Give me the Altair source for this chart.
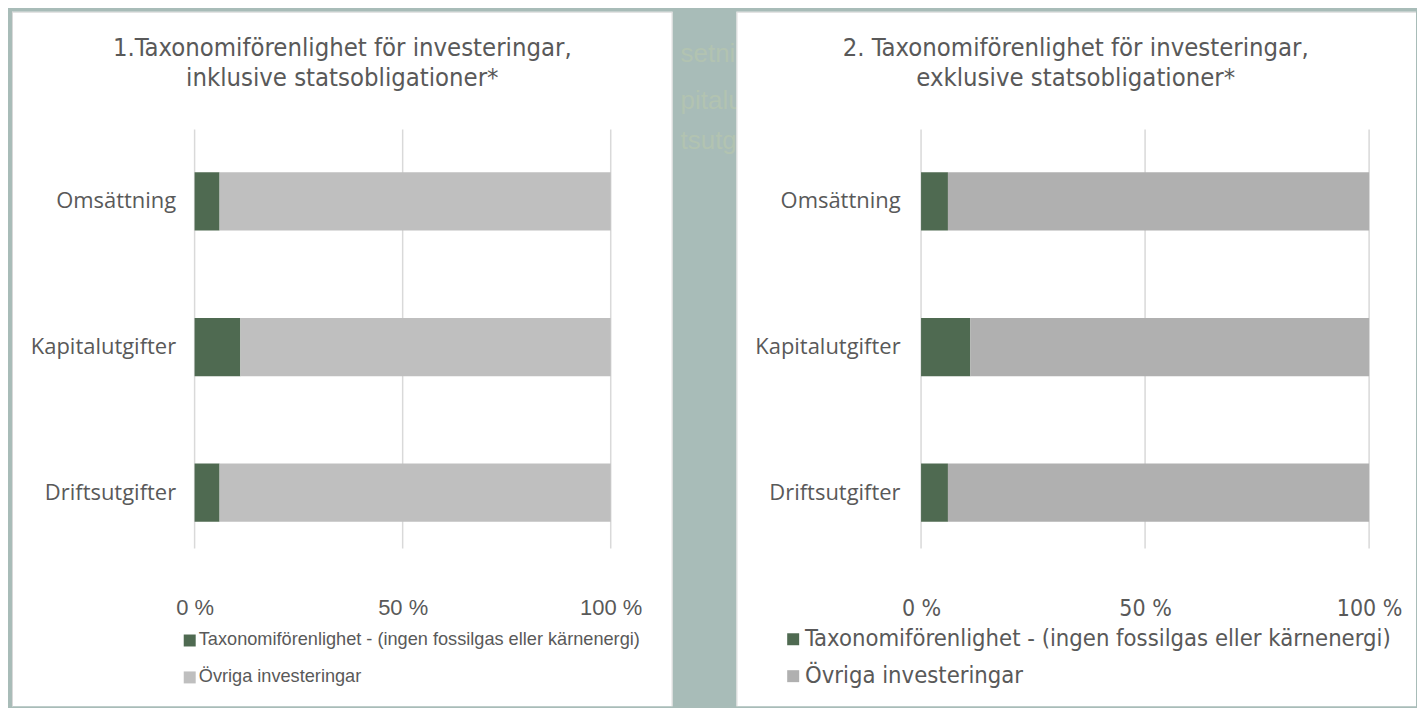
import altair as alt
import pandas as pd

categories = ["Omsättning", "Kapitalutgifter", "Driftsutgifter"]
series_names = ["Taxonomiförenlighet - (ingen fossilgas eller kärnenergi)", "Övriga investeringar"]
aligned_incl = [6, 11, 6]
other_incl = [94, 89, 94]
aligned_excl = [6, 11, 6]
other_excl = [94, 89, 94]
x_ticks = [0, 50, 100]
title_incl = ["1.Taxonomiförenlighet för investeringar,", "inklusive statsobligationer*"]
title_excl = ["2. Taxonomiförenlighet för investeringar,", "exklusive statsobligationer*"]
ghost_text = ["setni", "pitalu", "tsutg"]

GREEN = "#4f6a51"
TEXT = "#595959"
BORDER = "#d9d9d9"
NARROW = "DejaVu Sans Condensed, Liberation Sans"
REG = "Liberation Sans"
CAT = "Open Sans"


def long_df(aligned, other):
    rows = []
    for c, a, o in zip(categories, aligned, other):
        rows.append({"cat": c, "series": series_names[0], "value": a, "order": 0})
        rows.append({"cat": c, "series": series_names[1], "value": o, "order": 1})
    return pd.DataFrame(rows)


def edge(one, x1, x2, y1, y2):
    return alt.Chart(one).mark_rule(color=BORDER, strokeWidth=1).encode(
        x=alt.value(x1), x2=alt.value(x2), y=alt.value(y1), y2=alt.value(y2))


def panel(aligned, other, grey, W, H, rect, title_lines, title_x, title_font,
          title_size, tick_font, tick_size, leg_font, leg_size, leg_x, leg_y,
          leg_row, cat_pad, right_edge=True, ghosts=None):
    one = pd.DataFrame({"k": [0]})
    x_axis = alt.Axis(values=x_ticks, labelExpr="datum.value + ' %'", title=None,
                      domain=False, ticks=False, grid=False, labelFont=tick_font,
                      labelFontSize=tick_size, labelColor=TEXT, labelPadding=32,
                      labelFlush=False, zindex=1)
    layers = []
    if ghosts is not None:
        gdf = pd.DataFrame({"t": ghosts[0], "y": ghosts[1]})
        layers.append(
            alt.Chart(gdf).mark_text(align="left", baseline="middle", font=REG,
                                     fontSize=26, color="#b2c3b1")
            .encode(x=alt.value(ghosts[2]), y=alt.Y("y:Q", scale=None), text="t:N")
        )
    layers.append(
        alt.Chart(one).mark_rect(fill="white", strokeWidth=0)
        .encode(x=alt.value(rect[0]), x2=alt.value(rect[1]),
                y=alt.value(rect[2]), y2=alt.value(rect[3]))
    )
    layers.append(edge(one, rect[0] + 0.5, rect[0] + 0.5, rect[2], rect[3]))
    layers.append(edge(one, rect[0], rect[1], rect[2] + 0.5, rect[2] + 0.5))
    if right_edge:
        layers.append(edge(one, rect[1] - 0.5, rect[1] - 0.5, rect[2], rect[3]))
    for i, line in enumerate(title_lines):
        layers.append(
            alt.Chart(one).mark_text(align="center", baseline="middle", font=title_font,
                                     fontSize=title_size, color=TEXT)
            .encode(x=alt.value(title_x), y=alt.value(-81 + 30 * i), text=alt.value(line))
        )
    grid = alt.Chart(pd.DataFrame({"v": x_ticks})).mark_rule(color=BORDER, strokeWidth=1.5).encode(
        x=alt.X("v:Q", scale=alt.Scale(domain=[0, 100]), axis=x_axis),
        y=alt.value(1), y2=alt.value(421),
    )
    layers.append(grid)
    bars = alt.Chart(long_df(aligned, other)).mark_bar().encode(
        y=alt.Y("cat:N", sort=categories,
                scale=alt.Scale(paddingInner=0.6, paddingOuter=0.3),
                axis=alt.Axis(title=None, domain=False, ticks=False, labelFont=CAT,
                              labelFontSize=22, labelColor=TEXT, labelPadding=cat_pad,
                              zindex=1)),
        x=alt.X("value:Q", stack="zero", scale=alt.Scale(domain=[0, 100]), axis=x_axis),
        color=alt.Color("series:N", sort=series_names,
                        scale=alt.Scale(domain=series_names, range=[GREEN, grey]),
                        legend=alt.Legend(title=None, orient="none", legendX=leg_x, legendY=leg_y,
                                          direction="vertical", symbolType="square",
                                          symbolSize=144, symbolStrokeWidth=0, labelFont=leg_font,
                                          labelFontSize=leg_size, labelColor=TEXT, labelLimit=2000,
                                          labelOffset=0, rowPadding=leg_row, padding=0,
                                          zindex=1)),
        order=alt.Order("order:Q"),
    )
    layers.append(bars)
    return alt.layer(*layers).properties(width=W, height=H)


left = panel(aligned_incl, other_incl, "#bfbfbf", 417, 438,
             (-183, 479, -117, 579), title_incl, 148, NARROW, 25.5,
             REG, 22, REG, 18.2, -14, 504, 18, 19)

right = panel(aligned_excl, other_excl, "#b0b0b0", 449, 438,
              (-185, 496, -117, 579), title_excl, 155, NARROW, 25.5,
              NARROW, 23, NARROW, 23.7, -140, 500, 12, 21,
              right_edge=False, ghosts=(ghost_text, [-75, -28, 13], -241))

chart = alt.hconcat(left, right, spacing=7).resolve_scale(
    color="independent", x="independent", y="independent"
).properties(
    padding={"left": 3, "top": 2, "right": 0, "bottom": 0},
    background="#a8bcb8",
).configure_view(strokeWidth=0)

chart.save("out.html", embed_options={"renderer": "svg", "actions": False})
